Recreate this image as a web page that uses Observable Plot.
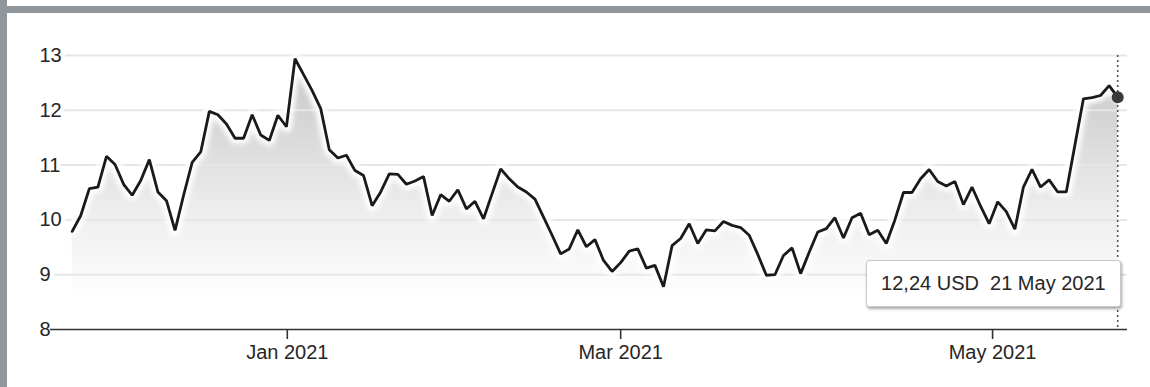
<!DOCTYPE html>
<html><head><meta charset="utf-8">
<script src="https://cdn.jsdelivr.net/npm/d3@7"></script>
<script src="https://cdn.jsdelivr.net/npm/@observablehq/plot@0.6"></script>
<style>
html,body{margin:0;padding:0;background:#fff;width:1150px;height:387px;overflow:hidden;font-family:"Liberation Sans",Arial,sans-serif;}
#wrap{position:relative;width:1150px;height:387px;}
#chart{position:absolute;left:0;top:0;}
.bar-top{position:absolute;left:0;top:6px;width:1150px;height:7px;background:#8f969c;}
.bar-left{position:absolute;left:0;top:0;width:7px;height:387px;background:#8f969c;}
#tip{position:absolute;top:260px;height:45px;line-height:45px;padding:0 14px;background:#fff;border:1px solid #c9c9c9;border-radius:3px;box-shadow:1px 2px 3px rgba(0,0,0,0.35);font-size:20px;color:#262626;white-space:pre;}
</style></head>
<body><div id="wrap"><div id="chart"></div><div class="bar-top"></div><div class="bar-left"></div><div id="tip"></div></div>
<script>
// closing prices, one per trading day (late Nov 2020 -> 21 May 2021)
const values = [
 9.79,10.08,10.57,10.60,11.16,11.01,10.65,10.45,10.72,11.10,
 10.51,10.35,9.81,10.45,11.05,11.24,11.98,11.92,11.75,11.49,
 11.49,11.92,11.55,11.45,11.91,11.70,12.94,12.65,12.36,12.03,
 11.28,11.13,11.18,10.90,10.81,10.26,10.51,10.84,10.83,10.65,
 10.71,10.79,10.08,10.46,10.34,10.55,10.20,10.34,10.02,10.48,
 10.93,10.75,10.60,10.51,10.38,10.05,9.72,9.38,9.47,9.82,
 9.51,9.64,9.26,9.06,9.22,9.43,9.47,9.12,9.17,8.78,
 9.53,9.66,9.93,9.57,9.82,9.80,9.97,9.90,9.86,9.72,
 9.37,8.99,9.00,9.35,9.49,9.02,9.41,9.78,9.84,10.04,
 9.67,10.04,10.12,9.73,9.81,9.57,10.00,10.50,10.50,10.75,
 10.92,10.70,10.62,10.70,10.28,10.60,10.25,9.93,10.33,10.15,
 9.83,10.60,10.92,10.60,10.73,10.51,10.51,11.36,12.21,12.23,
 12.27,12.45,12.24
];
const yTicks = [9, 10, 11, 12, 13];
const yBase = 8;
const xTickPos = [25.1, 64, 107.4];          // trading-day position of each month start
const xTickLabels = ["Jan 2021", "Mar 2021", "May 2021"];
const currency = "USD";
const lastDate = "21 May 2021";

const data = values.map((v, i) => ({i, v}));
const last = data[data.length - 1];
const labelOf = new Map(xTickPos.map((p, k) => [p, xTickLabels[k]]));

const defs = (index, {y}) => {
  const d = d3.create("svg:defs");
  const g = d.append("linearGradient").attr("id", "areaGrad")
    .attr("gradientUnits", "userSpaceOnUse")
    .attr("x1", 0).attr("x2", 0).attr("y1", y(13)).attr("y2", y(8));
  g.append("stop").attr("offset", "0%").attr("stop-color", "#c4c4c4");
  g.append("stop").attr("offset", "55%").attr("stop-color", "#ececec");
  g.append("stop").attr("offset", "88%").attr("stop-color", "#ffffff");
  g.append("stop").attr("offset", "100%").attr("stop-color", "#ffffff");
  const f = d.append("filter").attr("id", "glow").attr("x", "-5%").attr("y", "-20%").attr("width", "110%").attr("height", "140%");
  f.append("feGaussianBlur").attr("stdDeviation", 2.5);
  return d.node();
};

const font = {fontFamily: "'Liberation Sans', Arial, sans-serif", fontSize: 20};

const chart = Plot.plot({
  width: 1150,
  height: 387,
  marginTop: 55,
  marginBottom: 58,
  marginLeft: 38,
  marginRight: 23,
  style: {background: "transparent", fontFamily: font.fontFamily, fontSize: "20px", color: "#262626", overflow: "visible"},
  x: {type: "linear", domain: [0, values.length - 1], range: [71.7, 1117.2], axis: null, label: null},
  y: {domain: [8, 13], axis: null, label: null},
  marks: [
    defs,
    Plot.areaY(data, {x: "i", y1: yBase, y2: "v", fill: "url(#areaGrad)"}),
    Plot.ruleY(yTicks, {stroke: "#e6e6e6", strokeWidth: 2}),
    Plot.line(data, {x: "i", y: "v", stroke: "#fffffe", strokeWidth: 11}),
    Plot.line(data, {x: "i", y: "v", stroke: "#1a1a1a", strokeWidth: 2.8, strokeLinejoin: "miter"}),
    Plot.text(yTicks.concat([yBase]), {y: d => d, text: d => String(d), frameAnchor: "left", textAnchor: "start", dx: 1,
      fill: "#262626", stroke: "white", strokeWidth: 9, paintOrder: "stroke", fontSize: 20}),
    Plot.ruleY([yBase], {stroke: "#333", strokeWidth: 1.6, insetLeft: 12}),
    Plot.axisX(xTickPos, {tickFormat: d => labelOf.get(d), tickSize: 10, tickPadding: 5, stroke: "#333", strokeWidth: 1.6,
      fill: "#262626", fontSize: 20, anchor: "bottom", label: null}),
    Plot.ruleX([last.i], {stroke: "#555", strokeWidth: 1.6, strokeDasharray: "2,3"}),
    Plot.dot([last], {x: "i", y: "v", r: 6, fill: "#3a3a3a"})
  ]
});
const glow = chart.querySelector('g[stroke="#fffffe"]');
if (glow) { glow.setAttribute("filter", "url(#glow)"); glow.setAttribute("stroke", "#ffffff"); }
document.getElementById("chart").appendChild(chart);

const tip = document.getElementById("tip");
tip.textContent = last.v.toFixed(2).replace(".", ",") + " " + currency + "  " + lastDate;
const xs = chart.scale("x");
tip.style.right = (1150 - (xs.apply(last.i) + 3.5)) + "px";
</script>
</body></html>
